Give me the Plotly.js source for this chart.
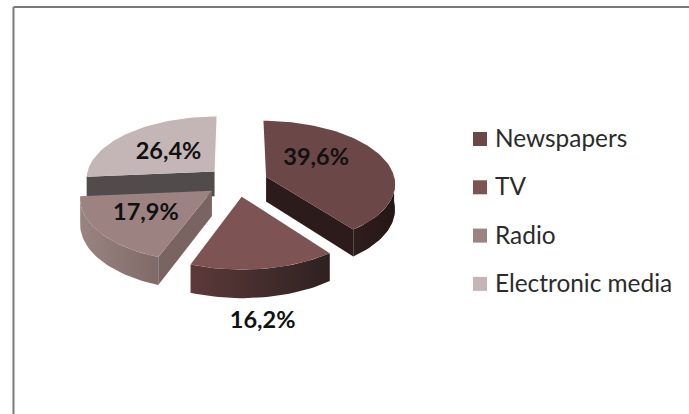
<!DOCTYPE html>
<html>
<head>
<meta charset="utf-8">
<script src="https://cdn.plot.ly/plotly-3.0.1.min.js"></script>
<style>html,body{margin:0;padding:0;background:#fff}#chart{width:689px;height:414px}</style>
</head>
<body>
<div id="chart"></div>
<script>
// ---- data ----
const categories = ["Newspapers", "TV", "Radio", "Electronic media"];
const shares = [39.6, 16.2, 17.9, 26.4];

// ---- style ----
const topColors = ["#6b4747", "#7d5453", "#9c8281", "#c4b6b6"];
const cutColors = ["#2b1c1b", "#2e2020", "#7a6462", "#514c4b"];
const wallStops = [
  ["#2e1e1d", "#241716"],
  ["#5c393a", "#2e2120"],
  ["#9a8482", "#806a68"],
  ["#514c4b", "#514c4b"]
];
const labelNudge = [[50, -18], [21, 125], [-66, 23], [-46, -18]];

// ---- projection of the exploded disc ----
const cx = 237, cy = 181.5, rx = 129, ry = 62.4, persp = 0.1, explode = 0.24, depth = 25;
const rad = d => d * Math.PI / 180;
function project(U, V, drop) {
  const s = 1 / (1 - persp * V);
  return [cx + rx * U * s, cy + ry * V * s + (drop ? depth * s : 0)];
}
const total = shares.reduce((a, b) => a + b, 0);
let acc = 0;
const slices = shares.map((v, i) => {
  const a0 = acc / total * 360; acc += v;
  const a1 = acc / total * 360, mid = (a0 + a1) / 2;
  return { i, a0, a1, mid, ex: explode * Math.sin(rad(mid)), ey: -explode * Math.cos(rad(mid)) };
});
function rim(s, a, drop) { return project(s.ex + Math.sin(rad(a)), s.ey - Math.cos(rad(a)), drop); }
function apex(s, drop) { return project(s.ex, s.ey, drop); }
function arc(s, from, to, drop) {
  const pts = [], n = Math.max(2, Math.ceil(Math.abs(to - from) / 2));
  for (let k = 0; k <= n; k++) pts.push(rim(s, from + (to - from) * k / n, drop));
  return pts;
}
function poly(pts, extra) {
  return Object.assign({
    type: "scatter", mode: "lines", x: pts.map(p => p[0]), y: pts.map(p => p[1]),
    fill: "toself", line: { width: 0 }, hoverinfo: "skip", showlegend: false
  }, extra);
}

const traces = [];
slices.slice().sort((p, q) => Math.cos(rad(q.mid)) - Math.cos(rad(p.mid))).forEach(s => {
  const i = s.i;
  // radial cut faces that look toward the viewer
  [[s.a0, -1], [s.a1, 1]].forEach(([a, sign]) => {
    if (sign * Math.sin(rad(a)) > 1e-6) {
      traces.push(poly([apex(s, false), rim(s, a, false), rim(s, a, true), apex(s, true)],
        { fillcolor: cutColors[i] }));
    }
  });
  // outer wall on the near half
  const from = Math.max(s.a0, 90), to = Math.min(s.a1, 270);
  if (to > from) {
    const up = arc(s, from, to, false), down = arc(s, to, from, true);
    traces.push(poly(up.concat(down), {
      fillgradient: { type: "horizontal", colorscale: [[0, wallStops[i][0]], [1, wallStops[i][1]]] }
    }));
  }
  // top face
  traces.push(poly([apex(s, false)].concat(arc(s, s.a0, s.a1, false)), { fillcolor: topColors[i] }));
});

// data labels
const labels = slices.map(s => {
  const p = apex(s, false);
  return { x: p[0] + labelNudge[s.i][0], y: p[1] + labelNudge[s.i][1],
           t: shares[s.i].toFixed(1).replace(".", ",") + "%" };
});
traces.push({
  type: "scatter", mode: "text", x: labels.map(l => l.x), y: labels.map(l => l.y),
  text: labels.map(l => l.t), textposition: "middle center",
  textfont: { family: "Lato, 'Noto Sans', sans-serif", size: 23.5, color: "#111111", weight: 700 },
  hoverinfo: "skip", showlegend: false
});

// legend column
const legX = 480, legTextX = 495, legY0 = 139, legStep = 48.3, legTextDrop = 2;
traces.push({
  type: "scatter", mode: "markers",
  x: categories.map(() => legX),
  y: categories.map((c, i) => legY0 + i * legStep),
  marker: { symbol: "square", size: 14, color: topColors, line: { width: 0 } },
  hoverinfo: "skip", showlegend: false
});
traces.push({
  type: "scatter", mode: "text",
  x: categories.map(() => legTextX),
  y: categories.map((c, i) => legY0 + legTextDrop + i * legStep),
  text: categories, textposition: "middle right",
  textfont: { family: "Lato, 'Noto Sans', sans-serif", size: 24.4, color: "#2b2b2b" },
  hoverinfo: "skip", showlegend: false
});

const layout = {
  width: 689, height: 414, margin: { l: 0, r: 0, t: 0, b: 0 },
  paper_bgcolor: "#ffffff", plot_bgcolor: "#ffffff", showlegend: false,
  xaxis: { range: [0, 689], visible: false, fixedrange: true },
  yaxis: { range: [414, 0], visible: false, fixedrange: true },
  shapes: [
    { type: "line", xref: "x", yref: "y", x0: 13.5, x1: 689, y0: 7, y1: 7, line: { color: "#7a7a7a", width: 2 } },
    { type: "line", xref: "x", yref: "y", x0: 13.5, x1: 13.5, y0: 7, y1: 414, line: { color: "#7a7a7a", width: 2 } }
  ]
};
Plotly.newPlot("chart", traces, layout, { displayModeBar: false, staticPlot: true });
</script>
</body>
</html>
